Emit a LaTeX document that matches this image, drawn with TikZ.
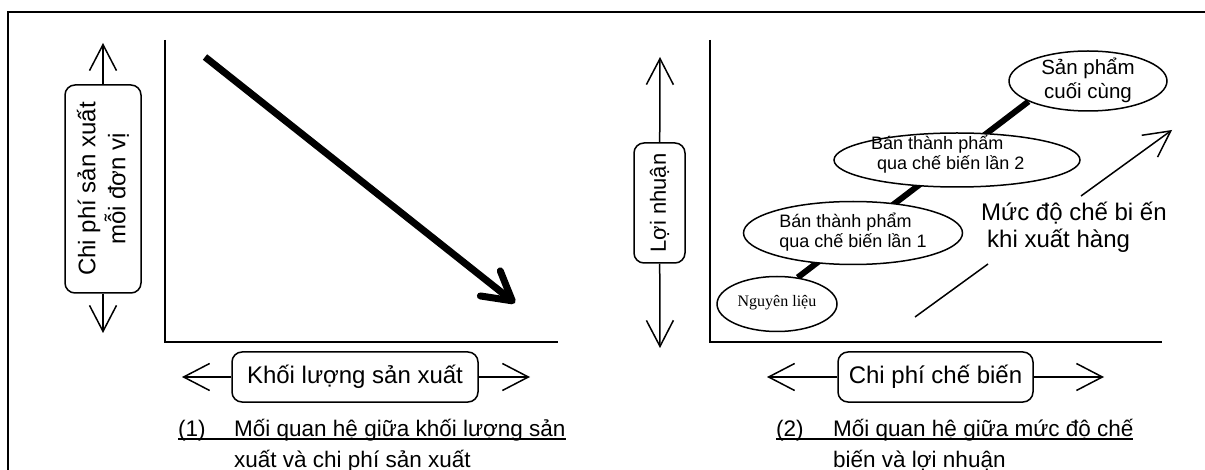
\documentclass[tikz,border=0pt]{standalone}
\usepackage{fontspec}
\setmainfont{Liberation Sans}
\newfontfamily\nlserif{Liberation Serif}
\usetikzlibrary{arrows.meta,shapes.geometric,backgrounds}
\newcommand\capul[1]{\setbox0\hbox{#1}\rlap{\rule[-4pt]{\wd0}{1.8pt}}\box0}
\begin{document}
\begin{tikzpicture}[x=1pt,y=-1pt,
  frameline/.style={line width=2pt},
  axisline/.style={line width=2pt},
  labelbox/.style={draw,line width=1.5pt,rounded corners=10pt,inner sep=0pt,
    font=\fontsize{24}{30}\selectfont,align=center},
  dirarrow/.style={line width=1.5pt,-{Straight Barb[length=26pt,width=27pt]}},
  captext/.style={inner sep=0pt,anchor=base west,font=\fontsize{22.5}{27}\selectfont},
  stage/.style={draw,ellipse,line width=1.5pt,fill=white,inner sep=0pt},
  stagetext/.style={inner sep=0pt,font=\fontsize{18}{20}\selectfont},
]
\useasboundingbox (0,0) rectangle (1205,470);
% outer frame
\draw[frameline] (8,480) -- (8,12) -- (1215,12);

% ---------- left panel ----------
\coordinate (yA1) at (165,40);
\coordinate (xA1) at (558,342);
\draw[axisline] (yA1) |- (xA1);

\node[labelbox,rotate=90,minimum width=208pt,minimum height=76pt] (cost) at (103,189)
  {Chi phí sản xuất\\mỗi đơn vị};
\coordinate (costUp) at (103,43);
\coordinate (costDown) at (103,333);
\draw[dirarrow] (cost) -- (costUp);
\draw[dirarrow] (cost) -- (costDown);

\node[labelbox,minimum width=246pt,minimum height=50pt] (vol) at (355,377) {Khối lượng sản xuất};
\coordinate (volL) at (182,377);
\coordinate (volR) at (530,377);
\draw[dirarrow] (vol) -- (volL);
\draw[dirarrow] (vol) -- (volR);

\coordinate (tA) at (205,57);
\coordinate (tB) at (515,303);
\draw[line width=7pt,-{Straight Barb[length=28pt,width=32pt,round]}] (tA) -- (tB);

\node[captext] (cap1a) at (178,436) {\capul{\makebox[56pt][l]{(1)}Mối quan hệ giữa khối lượng sản}};
\node[captext] (cap1b) at (234,467) {xuất và chi phí sản xuất};

% ---------- right panel ----------
\coordinate (yA2) at (710,40);
\coordinate (xA2) at (1162,342);
\draw[axisline] (yA2) |- (xA2);

\node[labelbox,rotate=90,minimum width=120pt,minimum height=51pt,
  font=\fontsize{22}{26}\selectfont] (profit) at (659.5,203) {Lợi nhuận};
\coordinate (profUp) at (660,57);
\coordinate (profDown) at (660,348);
\draw[dirarrow] (profit) -- (profUp);
\draw[dirarrow] (profit) -- (profDown);

\node[labelbox,minimum width=195pt,minimum height=50pt] (proc) at (935.5,377) {Chi phí chế biến};
\coordinate (procL) at (767,377);
\coordinate (procR) at (1104,377);
\draw[dirarrow] (proc) -- (procL);
\draw[dirarrow] (proc) -- (procR);

\node[captext] (cap2a) at (776,436) {\capul{\makebox[57pt][l]{(2)}Mối quan hệ giữa mức độ chế}};
\node[captext] (cap2b) at (833,467) {biến và lợi nhuận};

% stages
\node[stage,minimum width=120pt,minimum height=55pt] (e0) at (777,304) {};
\node[stage,minimum width=219pt,minimum height=63pt] (e1) at (853,233) {};
\node[stage,minimum width=246pt,minimum height=54pt] (e2) at (957,160) {};
\node[stage,minimum width=158pt,minimum height=60pt] (e3) at (1088,81) {};
\node[inner sep=0pt,font=\nlserif\fontsize{16}{18}\selectfont] (e0t) at (777,303) {Nguyên liệu};
\node[stagetext,align=left] (e1t) at (853,232) {Bán thành phẩm\\qua chế biến lần 1};
\node[stagetext,align=left,anchor=west] (e2t) at (871,154) {Bán thành phẩm\\\hspace*{6pt}qua chế biến lần 2};
\node[inner sep=0pt,align=center,font=\fontsize{20.5}{24}\selectfont] (e3t) at (1088,80) {Sản phẩm\\cuối cùng};
\begin{pgfonlayer}{background}
\draw[line width=6pt] (e0.52) -- (e3.199);
\end{pgfonlayer}

% level of processing
\node[inner sep=0pt,anchor=west,align=left,font=\fontsize{24}{27}\selectfont] (lvl) at (981,227)
  {Mức độ chế bi ến\\\hspace*{6pt}khi xuất hàng};
\coordinate (lvA) at (915,317);
\coordinate (lvG1) at (988,264);
\coordinate (lvG2) at (1081,196);
\coordinate (lvB) at (1172,130);
\draw[line width=1.5pt] (lvA) -- (lvG1);
\draw[dirarrow] (lvG2) -- (lvB);
\end{tikzpicture}
\end{document}
